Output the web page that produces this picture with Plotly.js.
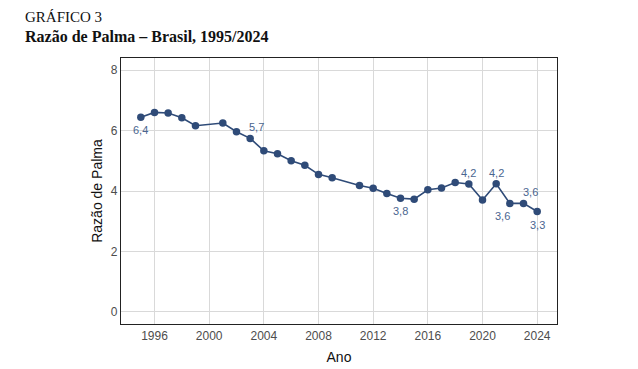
<!DOCTYPE html>
<html>
<head>
<meta charset="utf-8">
<script src="https://cdn.plot.ly/plotly-3.0.1.min.js"></script>
<style>
  html, body { margin: 0; padding: 0; background: #ffffff; }
  #chart { width: 638px; height: 369px; }
</style>
</head>
<body>
<div id="chart"></div>
<script>
const years = [1995, 1996, 1997, 1998, 1999, 2001, 2002, 2003, 2004, 2005, 2006, 2007, 2008, 2009,
               2011, 2012, 2013, 2014, 2015, 2016, 2017, 2018, 2019, 2020, 2021, 2022, 2023, 2024];
const palma = [6.44, 6.60, 6.58, 6.42, 6.16, 6.25, 5.96, 5.74, 5.33, 5.23, 5.00, 4.85, 4.55, 4.44,
               4.18, 4.09, 3.92, 3.76, 3.73, 4.04, 4.10, 4.28, 4.23, 3.70, 4.24, 3.59, 3.59, 3.32];
const labelledYears = [1995, 2003, 2014, 2019, 2021, 2022, 2023, 2024];
const labelPlacement = { 1995: [0, -13], 2003: [6, 11], 2014: [0, -13], 2019: [0, 11],
                         2021: [0, 11], 2022: [-7, -13], 2023: [7, 11], 2024: [0, -13] };
const xTicks = [1996, 2000, 2004, 2008, 2012, 2016, 2020, 2024];
const yTicks = [0, 2, 4, 6, 8];

const lineColor = '#2f4b78';
const fmt = v => v.toFixed(1).replace('.', ',');

const annotations = labelledYears.map(yr => {
  const i = years.indexOf(yr);
  const [dx, dy] = labelPlacement[yr];
  return {
    x: yr, y: palma[i], xref: 'x', yref: 'y', text: fmt(palma[i]), showarrow: false,
    xshift: dx, yshift: dy, font: { family: 'Liberation Sans, Arial, sans-serif', size: 11, color: '#4a6590' }
  };
});

annotations.push({
  text: 'GRÁFICO 3', xref: 'paper', yref: 'paper', showarrow: false,
  x: (23 - 121) / 436, y: 1 + (58 - 17) / 266, xanchor: 'left', yanchor: 'middle',
  font: { family: 'Liberation Serif, Times New Roman, serif', size: 15, color: '#111' }
});
annotations.push({
  text: '<b>Razão de Palma – Brasil, 1995/2024</b>', xref: 'paper', yref: 'paper', showarrow: false,
  x: (23 - 121) / 436, y: 1 + (58 - 37) / 266, xanchor: 'left', yanchor: 'middle',
  font: { family: 'Liberation Serif, Times New Roman, serif', size: 16, color: '#111' }
});

const trace = {
  x: years, y: palma, type: 'scatter', mode: 'lines+markers',
  line: { color: lineColor, width: 1.6 },
  marker: { color: lineColor, size: 7.5 },
  hoverinfo: 'x+y'
};

const axisCommon = {
  showgrid: true, gridcolor: '#d9d9d9', gridwidth: 1,
  zeroline: false, showline: true, linecolor: '#222', linewidth: 1.2, mirror: true,
  ticks: '',
  tickfont: { family: 'Liberation Sans, Arial, sans-serif', size: 12, color: '#4d4d4d' },
  automargin: false
};

const layout = {
  width: 638, height: 369,
  margin: { l: 121, r: 81, t: 58, b: 45 },
  paper_bgcolor: '#ffffff', plot_bgcolor: '#ffffff',
  showlegend: false,
  xaxis: Object.assign({}, axisCommon, {
    range: [1993.55, 2025.45], tickmode: 'array', tickvals: xTicks, ticktext: xTicks.map(String),
    title: { text: 'Ano', standoff: 10, font: { family: 'Liberation Sans, Arial, sans-serif', size: 14, color: '#111' } }
  }),
  yaxis: Object.assign({}, axisCommon, {
    range: [-0.4, 8.4], tickmode: 'array', tickvals: yTicks, ticktext: yTicks.map(String),
    title: { text: 'Razão de Palma', standoff: 4, font: { family: 'Liberation Sans, Arial, sans-serif', size: 14, color: '#111' } }
  }),
  annotations: annotations
};

Plotly.newPlot('chart', [trace], layout, { displayModeBar: false, staticPlot: true });
</script>
</body>
</html>
